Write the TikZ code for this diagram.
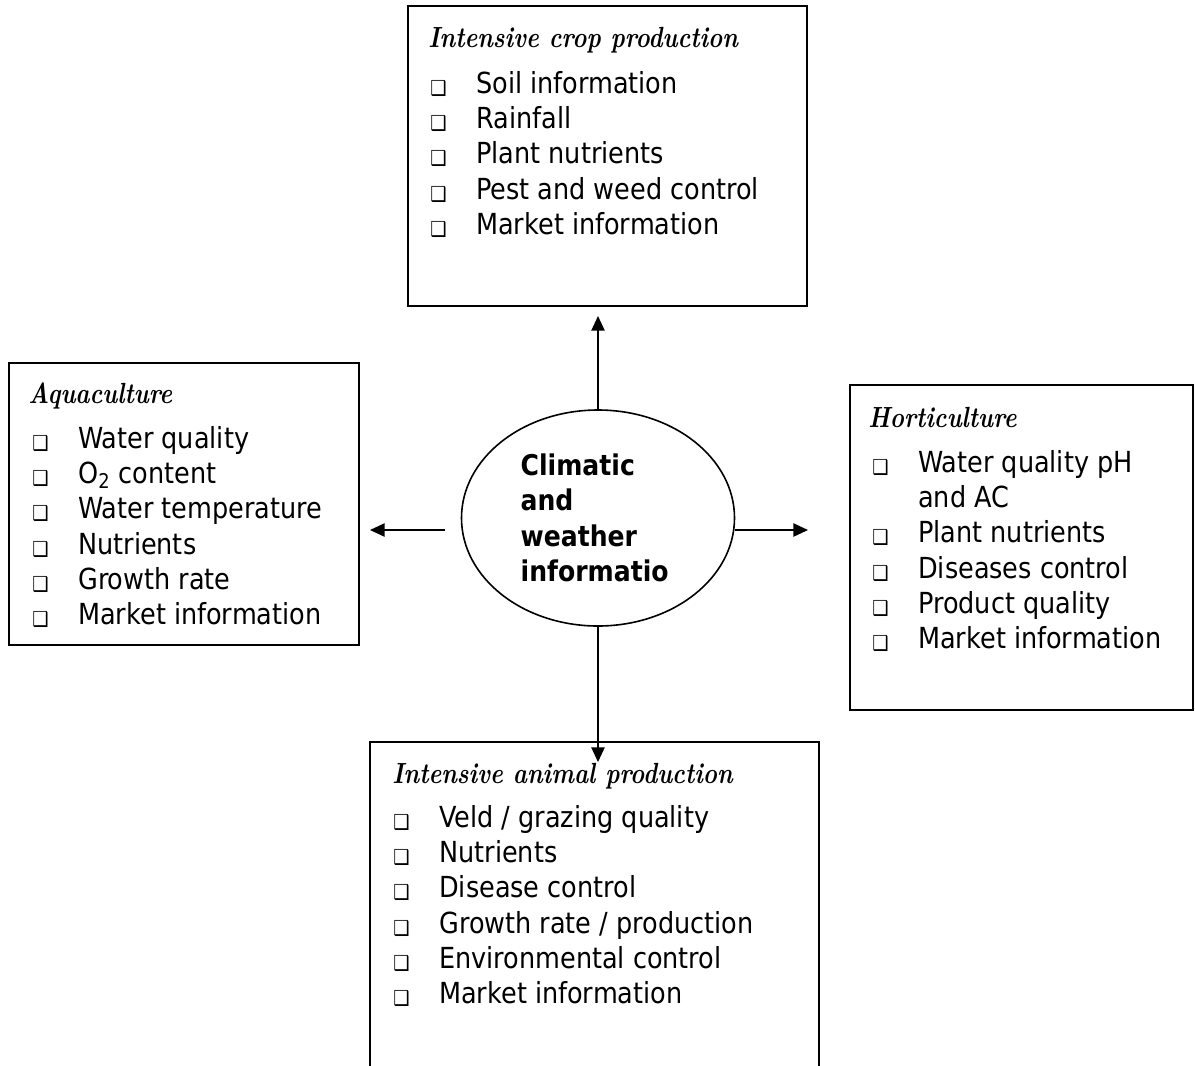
\documentclass[tikz,border=0pt]{standalone}
\usepackage{fontspec}
\usepackage{graphicx}
\newfontfamily\bodyf{DejaVu Sans}[FakeStretch=0.88]
\usetikzlibrary{arrows.meta,shapes.geometric}
\newcommand\bul{\makebox[34.5pt][l]{\raisebox{-1.5pt}{\fontsize{15.5}{15.5}\selectfont ❑}}}
\newcommand\itm[1]{\bul#1}
\newcommand\nob[1]{\makebox[34.5pt][l]{}#1}
\newcommand\ttltext[1]{\scalebox{0.95}[1.15]{#1}}
\tikzset{
  box/.style={draw, line width=1.2pt, inner sep=0pt, outer sep=0pt, anchor=north west},
  ttl/.style={anchor=base west, inner sep=0pt, font=\fontsize{19}{22}\selectfont\bfseries\itshape},
  lst/.style={anchor=base west, inner sep=0pt, font=\bodyf\fontsize{21.75}{26.5}\selectfont},
  arr/.style={line width=1.1pt, -{Triangle[length=11pt,width=10pt]}},
}
\begin{document}
\begin{tikzpicture}[x=0.75pt,y=-0.75pt]
\useasboundingbox (0,0) rectangle (1195,1065);
\clip (0,0) rectangle (1195,1065);
% boxes
\node[box, minimum width=299.25pt, minimum height=225pt] (crop) at (408,6) {};
\node[box, minimum width=262.5pt, minimum height=211.5pt] (aqua) at (9,363) {};
\node[box, minimum width=257.25pt, minimum height=243.75pt] (hort) at (850,385) {};
\node[box, minimum width=336.75pt, minimum height=255pt] (anim) at (370,742) {};
% centre
\node[draw, ellipse, line width=1.2pt, minimum width=204.75pt, minimum height=162pt, inner sep=0pt, align=left,
      font=\bodyf\bfseries\fontsize{21.4}{26.5}\selectfont] (ctr) at (598,518) {Climatic\\and\\weather\\informatio\hspace*{5pt}};
% titles
\node[ttl] (cropT) at (428,47) {\ttltext{Intensive crop production}};
\node[ttl] (aquaT) at (28,403) {\ttltext{Aquaculture}};
\node[ttl] (hortT) at (868,427) {\ttltext{Horticulture}};
\node[ttl] (animT) at (392,783) {\ttltext{Intensive animal production}};
% lists
\node[lst] (cropL) at (430,93) {\begin{tabular}[t]{@{}l@{}}
\itm{Soil information}\\
\itm{Rainfall}\\
\itm{Plant nutrients}\\
\itm{Pest and weed control}\\
\itm{Market information}
\end{tabular}};
\node[lst] (aquaL) at (32,448) {\begin{tabular}[t]{@{}l@{}}
\itm{Water quality}\\
\itm{O\textsubscript{2} content}\\
\itm{Water temperature}\\
\itm{Nutrients}\\
\itm{Growth rate}\\
\itm{Market information}
\end{tabular}};
\node[lst] (hortL) at (872,472) {\begin{tabular}[t]{@{}l@{}}
\itm{Water quality pH}\\
\nob{and AC}\\
\itm{Plant nutrients}\\
\itm{Diseases control}\\
\itm{Product quality}\\
\itm{Market information}
\end{tabular}};
\node[lst] (animL) at (393,827) {\begin{tabular}[t]{@{}l@{}}
\itm{Veld / grazing quality}\\
\itm{Nutrients}\\
\itm{Disease control}\\
\itm{Growth rate / production}\\
\itm{Environmental control}\\
\itm{Market information}
\end{tabular}};
% connectors
\coordinate (midL) at (0,530);
\coordinate (downTip) at (598,762);
\draw[arr, shorten >=7.5pt] (ctr.north) -- (ctr.north |- crop.south);
\draw[arr, shorten <=12pt, shorten >=8.25pt] (ctr.west |- midL) -- (aqua.east |- midL);
\draw[arr, shorten >=31.5pt] (ctr.east |- midL) -- (hort.west |- midL);
\draw[arr] (ctr.south) -- (downTip);
\end{tikzpicture}
\end{document}
